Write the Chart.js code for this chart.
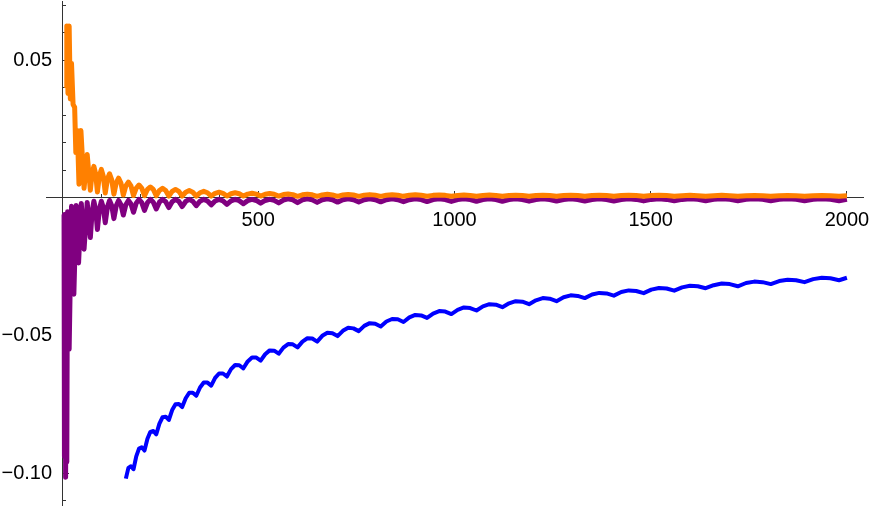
<!DOCTYPE html>
<html lang="en">
<head>
<meta charset="UTF-8">
<title>Oscillating error terms</title>
<script src="https://cdn.jsdelivr.net/npm/chart.js"></script>
<style>
  body { margin: 0; background: #fff; }
  .wrap { width: 872px; height: 509px; position: relative; }
</style>
</head>
<body>
<div class="wrap"><canvas id="plot"></canvas></div>
<script>
// tick positions
const xMajorTicks = [500, 1000, 1500, 2000];
const xMinorTicks = [100, 200, 300, 400, 600, 700, 800, 900, 1100, 1200, 1300, 1400, 1600, 1700, 1800, 1900];
const yMajorTicks = [-0.10, -0.05, 0.05];
const yMinorTicks = [-0.11, -0.09, -0.08, -0.07, -0.06, -0.04, -0.03, -0.02, -0.01, 0.01, 0.02, 0.03, 0.04, 0.06, 0.07];

// sample positions along the scalloped part (cusp, quarter, middle, three quarter of each arch)
const archX = [
  72, 76.5, 81, 85.5,   90, 95, 100, 105,   110, 115.5, 121, 126.5,   132, 138, 144, 150,
  156, 162.5, 169, 175.5,   182, 189, 196, 203,   210, 217.5, 225, 232.5,   240, 248, 256, 264,
  272, 280.5, 289, 297.5,   306, 315, 324, 333,   342, 351.5, 361, 370.5,   380, 390, 400, 410,
  420, 430.5, 441, 451.5,   462, 473, 484, 495,   506, 517.5, 529, 540.5,   552, 564, 576, 588,
  600, 612.5, 625, 637.5,   650, 663, 676, 689,   702, 715.5, 729, 742.5,   756, 770, 784, 798,
  812, 826.5, 841, 855.5,   870, 885, 900, 915,   930, 945.5, 961, 976.5,   992, 1008, 1024, 1040,
  1056, 1072.5, 1089, 1105.5,   1122, 1139, 1156, 1173,   1190, 1207.5, 1225, 1242.5,   1260, 1278, 1296, 1314,
  1332, 1350.5, 1369, 1387.5,   1406, 1425, 1444, 1463,   1482, 1501.5, 1521, 1540.5,   1560, 1580, 1600, 1620,
  1640, 1660.5, 1681, 1701.5,   1722, 1743, 1764, 1785,   1806, 1827.5, 1849, 1870.5,   1892, 1914, 1936, 1958,
  1980, 2000
];

// orange: steep start, then arches above the axis
const orangeHeadX = [10, 12, 15, 18, 21, 24, 28, 32, 35, 39, 43, 48, 56, 64];
const orangeHeadY = [0.040, 0.0625, 0.038, 0.0625, 0.036, 0.049, 0.034, 0.033, 0.0165, 0.0245, 0.005, 0.0245, 0.0035, 0.0158];
const orangeY = [
  0.0028, 0.0090, 0.0115, 0.0088,   0.0022, 0.0080, 0.0104, 0.0079,   0.0018, 0.0068, 0.0088, 0.0066,   0.0014, 0.0055, 0.0072, 0.0054,
  0.0011, 0.0044, 0.0058, 0.0044,   0.0009, 0.0036, 0.0047, 0.0036,   0.0008, 0.0031, 0.0040, 0.0031,   0.0008, 0.0027, 0.0035, 0.0027,
  0.0007, 0.0024, 0.0031, 0.0024,   0.0007, 0.0021, 0.0027, 0.0021,   0.0007, 0.0019, 0.0024, 0.0019,   0.0007, 0.0017, 0.0021, 0.0017,
  0.0007, 0.00155, 0.0019, 0.00155, 0.0007, 0.0014, 0.0017, 0.0014,   0.0007, 0.00134, 0.0016, 0.00134, 0.0007, 0.00125, 0.00148, 0.00122,
  0.0006, 0.00117, 0.0014, 0.00117, 0.0006, 0.00112, 0.00133, 0.00112, 0.0006, 0.00107, 0.00127, 0.00107, 0.0006, 0.00104, 0.00122, 0.00104,
  0.0006, 0.00101, 0.00118, 0.00101, 0.0006, 0.00098, 0.00114, 0.00098, 0.0006, 0.00095, 0.0011, 0.00095,  0.0006, 0.00093, 0.00107, 0.00093,
  0.0006, 0.00092, 0.00105, 0.00092, 0.0006, 0.0009, 0.00103, 0.0009,   0.0006, 0.00089, 0.00101, 0.00089, 0.0006, 0.00088, 0.001, 0.00088,
  0.0006, 0.00087, 0.00099, 0.00087, 0.0006, 0.00087, 0.00098, 0.00087, 0.0006, 0.00086, 0.00097, 0.00086, 0.0006, 0.00085, 0.00096, 0.00085,
  0.0006, 0.00085, 0.00095, 0.00085, 0.0006, 0.00084, 0.00094, 0.00084, 0.0006, 0.00083, 0.00093, 0.00083, 0.0006, 0.00083, 0.00092, 0.00083,
  0.0006, 0.0008
];

// purple: deep start below the axis, then dips at the cusps
const purpleHeadX = [5, 6, 8, 9, 11, 12, 14, 18, 24, 30, 36, 42, 49, 56, 64];
const purpleHeadY = [-0.006, -0.094, -0.006, -0.1015, -0.006, -0.096, -0.005, -0.055, -0.003, -0.035, -0.0027, -0.0236, -0.002, -0.0186, -0.0016];
const purpleY = [
  -0.0144, -0.0051, -0.0012, -0.0042,   -0.0115, -0.0042, -0.0012, -0.0035,   -0.0090, -0.0033, -0.0009, -0.0028,   -0.0075, -0.0028, -0.0009, -0.00245,
  -0.0062, -0.00245, -0.0009, -0.0022,  -0.0052, -0.00188, -0.0005, -0.00167, -0.0045, -0.00167, -0.0005, -0.00153, -0.0040, -0.00153, -0.0005, -0.00138,
  -0.0035, -0.00138, -0.0005, -0.00126, -0.0031, -0.00126, -0.0005, -0.00117, -0.0028, -0.00117, -0.0005, -0.00109, -0.0025, -0.00109, -0.0005, -0.00103,
  -0.0023, -0.00103, -0.0005, -0.00097, -0.0021, -0.00097, -0.0005, -0.00091, -0.0019, -0.00091, -0.0005, -0.00088, -0.0018, -0.00074, -0.0003, -0.00071,
  -0.0017, -0.00071, -0.0003, -0.00068, -0.0016, -0.00068, -0.0003, -0.00065, -0.0015, -0.00065, -0.0003, -0.00064, -0.00145, -0.00064, -0.0003, -0.00062,
  -0.0014, -0.00062, -0.0003, -0.00061, -0.00135, -0.00061, -0.0003, -0.00059, -0.0013, -0.00059, -0.0003, -0.00058,  -0.00125, -0.00058, -0.0003, -0.00056,
  -0.0012, -0.00056, -0.0003, -0.00056, -0.00118, -0.00056, -0.0003, -0.00055, -0.00115, -0.00055, -0.0003, -0.00054, -0.00112, -0.00054, -0.0003, -0.00053,
  -0.0011, -0.00053, -0.0003, -0.00053, -0.00108, -0.00053, -0.0003, -0.00052, -0.00106, -0.00052, -0.0003, -0.00052, -0.00104, -0.00052, -0.0003, -0.00051,
  -0.00102, -0.00051, -0.0003, -0.0005, -0.001, -0.0005, -0.0003, -0.0005,   -0.001, -0.0005, -0.0003, -0.0005,   -0.001, -0.0005, -0.0003, -0.0005,
  -0.001, -0.0005
];

// blue: starts near x = 160 and climbs towards zero with small hooks
const blueStart = 162.5;
const blueY = [
  -0.1020, -0.0981, -0.0975,
  -0.0986, -0.0939, -0.0911, -0.0906,   -0.0918, -0.0875, -0.0850, -0.0847,   -0.0859, -0.0820, -0.0797, -0.0795,
  -0.0807, -0.0771, -0.0750, -0.0749,   -0.0760, -0.0728, -0.0708, -0.0708,   -0.0719, -0.0689, -0.0671, -0.0671,
  -0.0682, -0.0654, -0.0638, -0.0638,   -0.0649, -0.0622, -0.0607, -0.0608,   -0.0619, -0.0594, -0.0580, -0.0580,
  -0.0591, -0.0568, -0.0554, -0.0555,   -0.0566, -0.0544, -0.0531, -0.0532,   -0.0543, -0.0522, -0.0510, -0.0511,
  -0.0522, -0.0501, -0.0490, -0.0492,   -0.0502, -0.0483, -0.0472, -0.0474,   -0.0484, -0.0465, -0.0455, -0.0457,
  -0.0467, -0.0449, -0.0440, -0.0441,   -0.0451, -0.0434, -0.0425, -0.0427,   -0.0436, -0.0420, -0.0411, -0.0413,
  -0.0422, -0.0407, -0.0398, -0.0400,   -0.0409, -0.0394, -0.0386, -0.0388,   -0.0397, -0.0383, -0.0375, -0.0377,
  -0.0386, -0.0372, -0.0364, -0.0366,   -0.0375, -0.0361, -0.0354, -0.0356,   -0.0364, -0.0351, -0.0345, -0.0347,
  -0.0355, -0.0342, -0.0336, -0.0338,   -0.0346, -0.0333, -0.0327, -0.0329,   -0.0337, -0.0325, -0.0319, -0.0321,
  -0.0328, -0.0317, -0.0311, -0.0313,   -0.0321, -0.0309, -0.0304, -0.0306,   -0.0313, -0.0302, -0.0297, -0.0299,
  -0.0306, -0.0295, -0.0290, -0.0292,
  -0.0299, -0.0290
];

const xRange = [-41, 2041];
const yRange = [-0.1116, 0.0716];

function pairs(xs, ys) {
  return xs.map((x, i) => ({ x: x, y: ys[i] }));
}

const orangeData = pairs(orangeHeadX.concat(archX), orangeHeadY.concat(orangeY));
const purpleData = pairs(purpleHeadX.concat(archX), purpleHeadY.concat(purpleY));
const blueData = pairs(archX.filter(x => x >= blueStart), blueY);

const labelFont = { family: "'Liberation Sans', Arial, sans-serif", size: 20 };
const axisColor = '#333';

// axes sit on the other axis' zero, they should not take layout room
function flatX(s) { s.height = 0; s.paddingLeft = 0; s.paddingRight = 0; }
function flatY(s) { s.width = 0; s.paddingTop = 0; s.paddingBottom = 0; }
function useTicks(list) {
  return s => { s.ticks = list.map(v => ({ value: v })); };
}
// y labels get no padding when the axis is pinned to x = 0, so an en space keeps them off the line
function fmtY(v) {
  const s = Math.abs(v).toFixed(2);
  return (v < 0 ? '\u2212' + s : s) + '\u2002';
}

function curve(data, color, width) {
  return {
    data: data,
    showLine: true,
    borderColor: color,
    backgroundColor: color,
    borderWidth: width,
    pointRadius: 0,
    tension: 0,
    borderJoinStyle: 'round',
    fill: false
  };
}

new Chart(document.getElementById('plot'), {
  type: 'scatter',
  data: {
    datasets: [
      curve(orangeData, '#ff8000', 5),
      curve(purpleData, '#800080', 5),
      curve(blueData, '#0000ff', 4)
    ]
  },
  options: {
    responsive: true,
    maintainAspectRatio: false,
    animation: false,
    events: [],
    layout: { padding: { left: 46, right: 9, top: 1, bottom: 4 } },
    plugins: { legend: { display: false }, tooltip: { enabled: false } },
    scales: {
      x: {
        type: 'linear', axis: 'x', min: xRange[0], max: xRange[1], position: { y: 0 }, z: 1,
        afterFit: flatX,
        afterBuildTicks: useTicks(xMajorTicks),
        border: { color: axisColor, width: 1 },
        grid: { drawOnChartArea: false, drawTicks: true, tickLength: -7, color: axisColor },
        ticks: { padding: 18, color: '#000', font: labelFont, maxRotation: 0, autoSkip: false,
                 callback: v => String(v) }
      },
      xMinor: {
        type: 'linear', axis: 'x', min: xRange[0], max: xRange[1], position: { y: 0 }, z: 1,
        afterFit: flatX,
        afterBuildTicks: useTicks(xMinorTicks),
        border: { display: false },
        grid: { drawOnChartArea: false, drawTicks: true, tickLength: -4, color: axisColor },
        ticks: { autoSkip: false, display: false }
      },
      y: {
        type: 'linear', axis: 'y', min: yRange[0], max: yRange[1], position: { x: 0 }, z: 1,
        afterFit: flatY,
        afterBuildTicks: useTicks(yMajorTicks),
        border: { color: axisColor, width: 1 },
        grid: { drawOnChartArea: false, drawTicks: true, tickLength: -7, color: axisColor },
        ticks: { color: '#000', font: labelFont, autoSkip: false, callback: v => fmtY(v) }
      },
      yMinor: {
        type: 'linear', axis: 'y', min: yRange[0], max: yRange[1], position: { x: 0 }, z: 1,
        afterFit: flatY,
        afterBuildTicks: useTicks(yMinorTicks),
        border: { display: false },
        grid: { drawOnChartArea: false, drawTicks: true, tickLength: -4, color: axisColor },
        ticks: { autoSkip: false, display: false }
      }
    }
  }
});
</script>
</body>
</html>
